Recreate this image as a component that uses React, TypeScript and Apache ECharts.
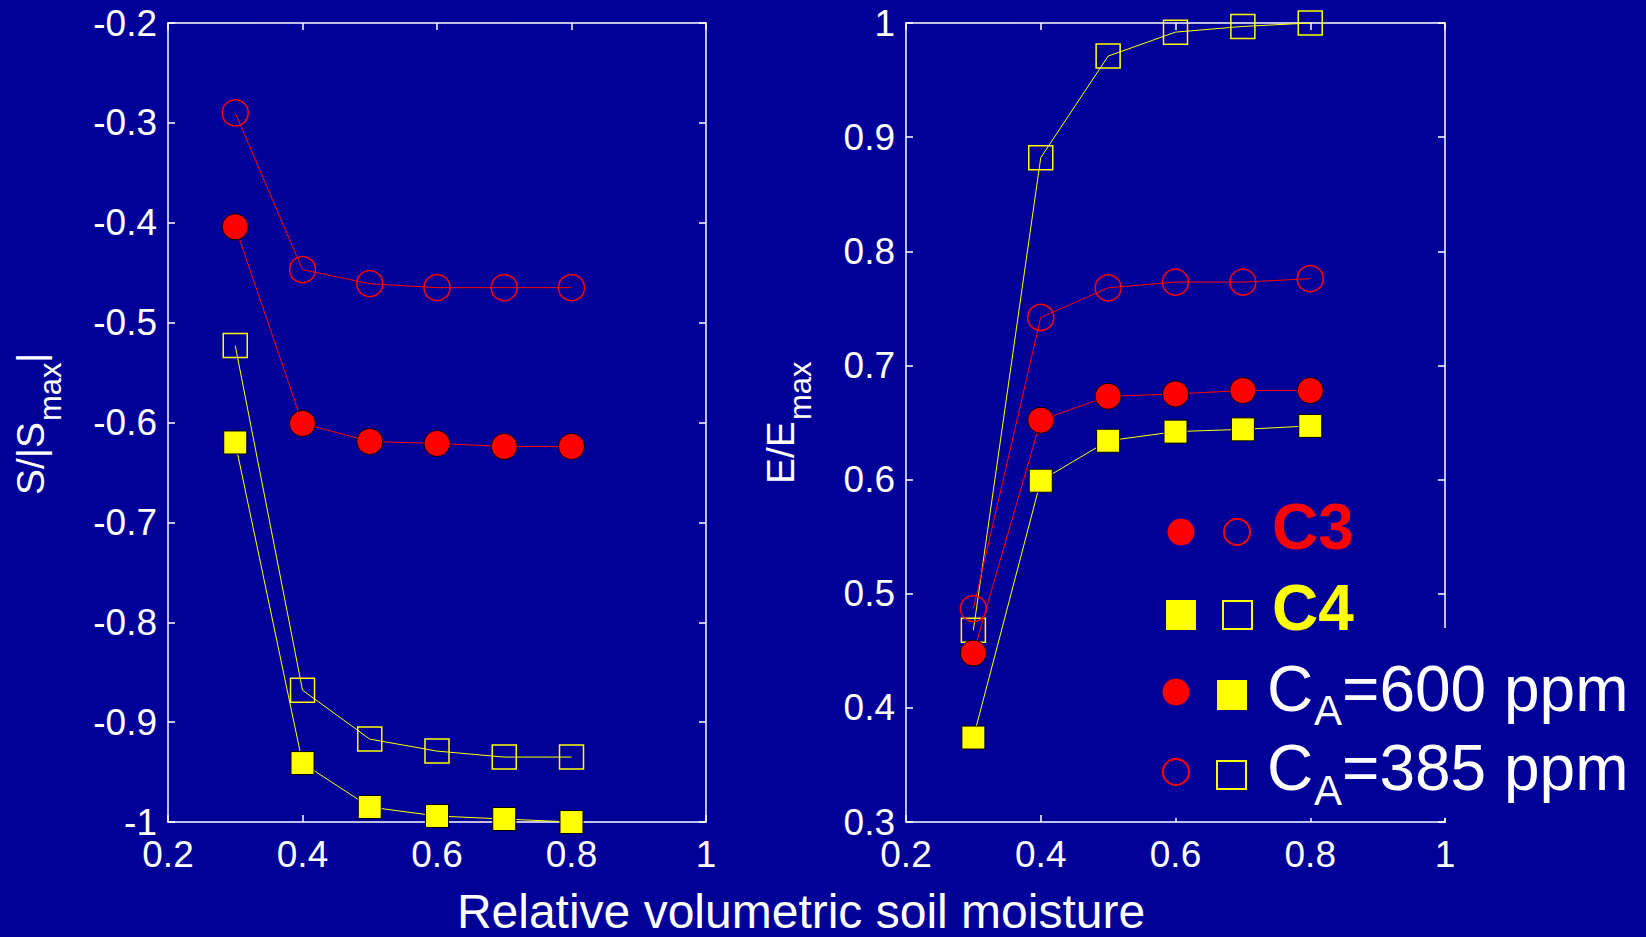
import React, { useEffect, useRef } from "react";
import * as echarts from "echarts";

// ---- data ----
const moisture = [0.3, 0.4, 0.5, 0.6, 0.7, 0.8];
// S/|Smax| (left panel)
const sC3_600 = [-0.404, -0.601, -0.619, -0.621, -0.624, -0.624];
const sC3_385 = [-0.29, -0.447, -0.461, -0.465, -0.465, -0.465];
const sC4_600 = [-0.62, -0.941, -0.985, -0.994, -0.997, -1.0];
const sC4_385 = [-0.523, -0.868, -0.917, -0.929, -0.935, -0.935];
// E/Emax (right panel)
const eC3_600 = [0.448, 0.652, 0.673, 0.675, 0.678, 0.678];
const eC3_385 = [0.487, 0.742, 0.768, 0.773, 0.773, 0.776];
const eC4_600 = [0.374, 0.599, 0.634, 0.642, 0.644, 0.647];
const eC4_385 = [0.468, 0.882, 0.971, 0.992, 0.997, 1.0];

const xTitle = "Relative volumetric soil moisture";
const legendC3 = "C3";
const legendC4 = "C4";
const legendHigh = "=600 ppm";
const legendLow = "=385 ppm";

const BG = "#000099";
const RED = "#ff0000";
const YEL = "#ffff00";
const WHITE = "#ffffff";
const FONT = "'Liberation Sans', Arial, Helvetica, sans-serif";

const pairs = (ys: number[]) => moisture.map((x, i) => [x, ys[i]]);

function axisBase(gridIndex: number, min: number, max: number, interval: number, showLabel: boolean) {
  return {
    type: "value",
    gridIndex,
    min,
    max,
    interval,
    axisLine: { show: true, lineStyle: { color: WHITE, width: 1.5 } },
    axisTick: { show: true, inside: true, length: 7, lineStyle: { color: WHITE, width: 1.5 } },
    splitLine: { show: false },
    axisLabel: {
      show: showLabel,
      color: WHITE,
      fontSize: 37,
      fontFamily: FONT,
    },
  };
}

function lineSeries(
  xAxisIndex: number,
  yAxisIndex: number,
  ys: number[],
  color: string,
  symbol: string,
  filled: boolean,
  name: string
) {
  const isCircle = symbol === "circle";
  return {
    type: "line",
    name,
    xAxisIndex,
    yAxisIndex,
    data: pairs(ys),
    symbol,
    symbolSize: isCircle ? 26 : filled ? 23 : 24,
    showAllSymbol: true,
    clip: false,
    lineStyle: { color, width: 1 },
    itemStyle: filled
      ? { color, borderColor: "#000000", borderWidth: 1 }
      : { color: "rgba(0,0,0,0)", borderColor: color, borderWidth: 1.5 },
    emphasis: { disabled: true },
    z: filled ? 3 : 2,
  };
}

export default function App() {
  const ref = useRef<HTMLDivElement>(null);

  useEffect(() => {
    document.body.style.margin = "0";
    document.body.style.background = BG;
    if (!ref.current) return;
    const chart = echarts.init(ref.current, undefined, { renderer: "svg" });

    const xa = (g: number, pos: string, show: boolean) => ({
      ...axisBase(g, 0.2, 1, 0.2, show),
      position: pos,
      axisLabel: { ...axisBase(g, 0.2, 1, 0.2, show).axisLabel, margin: 14 },
    });
    const ya = (g: number, min: number, max: number, pos: string, show: boolean) => ({
      ...axisBase(g, min, max, 0.1, show),
      position: pos,
      axisLabel: { ...axisBase(g, min, max, 0.1, show).axisLabel, margin: 11 },
    });

    const subTitle = (
      cx: number,
      cy: number,
      main: string,
      mainW: number,
      tail: string
    ) => ({
      type: "group",
      x: cx,
      y: cy,
      rotation: Math.PI / 2,
      children: [
        {
          type: "text",
          x: -mainW,
          y: -13,
          style: { text: main, font: `39px ${FONT}`, fill: WHITE, align: "left", verticalAlign: "middle" },
        },
        {
          type: "text",
          x: 2,
          y: 7,
          style: { text: "max", font: `31px ${FONT}`, fill: WHITE, align: "left", verticalAlign: "middle" },
        },
        ...(tail
          ? [
              {
                type: "text",
                x: 60,
                y: -13,
                style: { text: tail, font: `39px ${FONT}`, fill: WHITE, align: "left", verticalAlign: "middle" },
              },
            ]
          : []),
      ],
    });

    const option = {
      animation: false,
      backgroundColor: BG,
      grid: [
        { left: 168, top: 23, width: 538, height: 799 },
        { left: 906, top: 23, width: 539, height: 799 },
      ],
      xAxis: [xa(0, "bottom", true), xa(0, "top", false), xa(1, "bottom", true), xa(1, "top", false)],
      yAxis: [
        ya(0, -1, -0.2, "left", true),
        ya(0, -1, -0.2, "right", false),
        ya(1, 0.3, 1, "left", true),
        ya(1, 0.3, 1, "right", false),
      ],
      series: [
        lineSeries(0, 0, sC3_385, RED, "circle", false, "S C3 385"),
        lineSeries(0, 0, sC3_600, RED, "circle", true, "S C3 600"),
        lineSeries(0, 0, sC4_385, YEL, "rect", false, "S C4 385"),
        lineSeries(0, 0, sC4_600, YEL, "rect", true, "S C4 600"),
        lineSeries(2, 2, eC4_385, YEL, "rect", false, "E C4 385"),
        lineSeries(2, 2, eC3_385, RED, "circle", false, "E C3 385"),
        lineSeries(2, 2, eC3_600, RED, "circle", true, "E C3 600"),
        lineSeries(2, 2, eC4_600, YEL, "rect", true, "E C4 600"),
      ],
      graphic: [
        // y-axis titles
        subTitle(43, 423, "S/|S", 72, "|"),
        subTitle(793, 422, "E/E", 62, ""),
        // x-axis title
        {
          type: "text",
          x: 801,
          y: 911,
          style: { text: xTitle, font: `48px ${FONT}`, fill: WHITE, align: "center", verticalAlign: "middle" },
        },
        // legend box (covers the frame)
        { type: "rect", z: 100, shape: { x: 1160, y: 628, width: 486, height: 190 }, style: { fill: BG } },
        // row C3
        { type: "circle", z: 101, shape: { cx: 1181, cy: 532, r: 13.5 }, style: { fill: RED } },
        { type: "circle", z: 101, shape: { cx: 1237, cy: 532, r: 13 }, style: { fill: "none", stroke: RED, lineWidth: 2 } },
        {
          type: "text",
          z: 101,
          x: 1272,
          y: 527,
          style: { text: legendC3, font: `bold 64px ${FONT}`, fill: RED, align: "left", verticalAlign: "middle" },
        },
        // row C4
        { type: "rect", z: 101, shape: { x: 1166, y: 600, width: 30, height: 30 }, style: { fill: YEL } },
        { type: "rect", z: 101, shape: { x: 1223, y: 601, width: 29, height: 28 }, style: { fill: "none", stroke: YEL, lineWidth: 2 } },
        {
          type: "text",
          z: 101,
          x: 1272,
          y: 608,
          style: { text: legendC4, font: `bold 64px ${FONT}`, fill: YEL, align: "left", verticalAlign: "middle" },
        },
        // row CA=600
        { type: "circle", z: 101, shape: { cx: 1176, cy: 692, r: 13.5 }, style: { fill: RED } },
        { type: "rect", z: 101, shape: { x: 1217, y: 680, width: 30, height: 30 }, style: { fill: YEL } },
        { type: "text", z: 101, x: 1267, y: 689, style: { text: "C", font: `64px ${FONT}`, fill: WHITE, align: "left", verticalAlign: "middle" } },
        { type: "text", z: 101, x: 1314, y: 710, style: { text: "A", font: `42px ${FONT}`, fill: WHITE, align: "left", verticalAlign: "middle" } },
        { type: "text", z: 101, x: 1342, y: 689, style: { text: legendHigh, font: `64px ${FONT}`, fill: WHITE, align: "left", verticalAlign: "middle" } },
        // row CA=385
        { type: "circle", z: 101, shape: { cx: 1176, cy: 772, r: 13 }, style: { fill: "none", stroke: RED, lineWidth: 2 } },
        { type: "rect", z: 101, shape: { x: 1217, y: 761, width: 29, height: 28 }, style: { fill: "none", stroke: YEL, lineWidth: 2 } },
        { type: "text", z: 101, x: 1267, y: 768, style: { text: "C", font: `64px ${FONT}`, fill: WHITE, align: "left", verticalAlign: "middle" } },
        { type: "text", z: 101, x: 1314, y: 790, style: { text: "A", font: `42px ${FONT}`, fill: WHITE, align: "left", verticalAlign: "middle" } },
        { type: "text", z: 101, x: 1342, y: 768, style: { text: legendLow, font: `64px ${FONT}`, fill: WHITE, align: "left", verticalAlign: "middle" } },
      ],
    };

    chart.setOption(option as any);
    return () => chart.dispose();
  }, []);

  return <div ref={ref} style={{ width: 1646, height: 937, background: BG }} />;
}
